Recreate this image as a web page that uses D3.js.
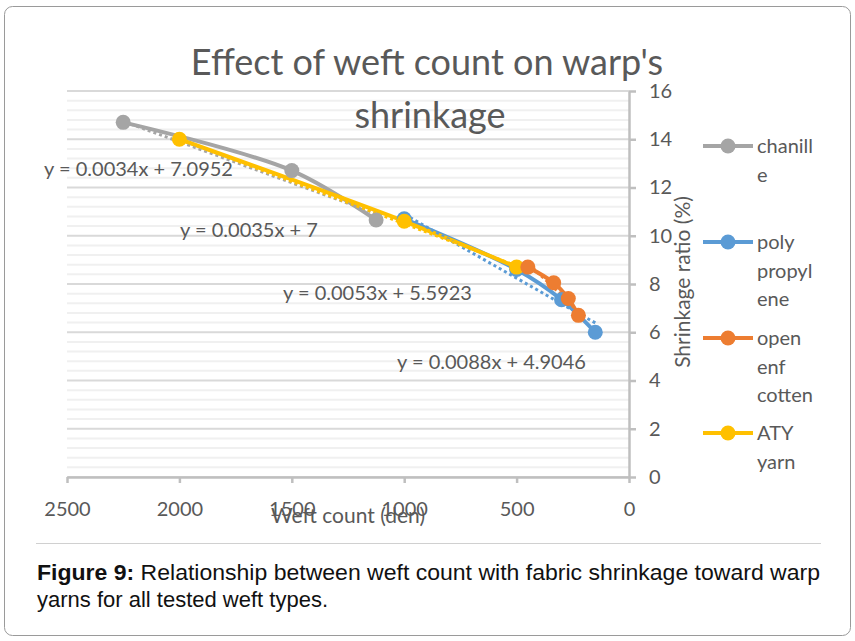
<!DOCTYPE html>
<html>
<head>
<meta charset="utf-8">
<script src="https://cdn.jsdelivr.net/npm/d3@7"></script>
<style>
	body { margin: 0; background: #fff; }
	svg { display: block; }
	.axis text { font-family: Lato, 'Open Sans', sans-serif; font-size: 20px; fill: #595959; }
</style>
</head>
<body>
<div class="chart"></div>
<script>
// data
const seriesNames = ['chanille', 'poly propylene', 'open enf cotten', 'ATY yarn']
const legendLines = [['chanill', 'e'], ['poly', 'propyl', 'ene'], ['open', 'enf', 'cotten'], ['ATY', 'yarn']]
const seriesColors = ['#a5a5a5', '#5b9bd5', '#ed7d31', '#ffc000']

const chanilleX = [2250, 1500, 1125]
const chanilleY = [14.7, 12.7, 10.65]
const polyX = [1000, 500, 300, 150]
const polyY = [10.7, 8.6, 7.35, 6.0]
const cottonX = [450, 335, 270, 225]
const cottonY = [8.7, 8.05, 7.4, 6.7]
const atyX = [2000, 1000, 500]
const atyY = [14.0, 10.6, 8.7]

// linear trendlines as printed on the chart
const trendSlope = [0.0034, 0.0053, 0.0088, 0.0035]
const trendIntercept = [7.0952, 5.5923, 4.9046, 7]
// where each equation sits, in data units (den, %)
const eqAnchorX = [2602, 1539, 1032, 1997]
const eqAnchorY = [12.77, 7.64, 4.76, 10.25]

const xTicks = [2500, 2000, 1500, 1000, 500, 0]
const yTicks = [0, 2, 4, 6, 8, 10, 12, 14, 16]

const titleLines = ["Effect of weft count on warp's", 'shrinkage']
const xLabel = 'Weft count (den)'
const yLabel = 'Shrinkage ratio (%)'
const captionBold = 'Figure 9:'
const captionLine1 = ' Relationship between weft count with fabric shrinkage toward warp'
const captionLine2 = 'yarns for all tested weft types.'

const seriesX = [chanilleX, polyX, cottonX, atyX]
const seriesY = [chanilleY, polyY, cottonY, atyY]
const series = seriesNames.map((name, i) => ({
	name,
	color: seriesColors[i],
	lines: legendLines[i],
	points: seriesX[i].map((x, j) => ({ x, y: seriesY[i][j] })),
	slope: trendSlope[i],
	intercept: trendIntercept[i],
	eq: { x: eqAnchorX[i], y: eqAnchorY[i] }
}))

const W = 855, H = 641
const plot = { left: 67, right: 629, top: 91, bottom: 477 }
const txt = '#595959'
const font = "Lato, 'Open Sans', sans-serif"

const svg = d3.select('.chart')
	.append('svg')
	.attr('width', W)
	.attr('height', H)
	.attr('viewBox', [0, 0, W, H])

svg.append('rect')
	.attr('x', 4.5).attr('y', 6.5)
	.attr('width', W - 9).attr('height', H - 12)
	.attr('rx', 8)
	.attr('fill', '#fff')
	.attr('stroke', '#9a9a9a')

const xScale = d3.scaleLinear().domain([2500, 0]).range([plot.left, plot.right])
const yScale = d3.scaleLinear().domain([0, 16]).range([plot.bottom, plot.top])

// gridlines: major every 2, minor every 0.4
const grid = d3.range(0, 41).map(i => ({ v: i * 0.4, major: i % 5 === 0 }))
svg.append('g')
	.selectAll('line')
	.data(grid.sort((a, b) => a.major - b.major))
	.join('line')
	.attr('x1', plot.left).attr('x2', plot.right)
	.attr('y1', d => yScale(d.v)).attr('y2', d => yScale(d.v))
	.attr('stroke', d => d.major ? '#d9d9d9' : '#f0f0f0')
	.attr('stroke-width', 2)

// axes
const xAxis = d3.axisBottom(xScale).tickValues(xTicks).tickFormat(d3.format('d'))
	.tickSize(6).tickSizeOuter(0).tickPadding(19)
const yAxis = d3.axisRight(yScale).tickValues(yTicks).tickFormat(d3.format('d'))
	.tickSize(7).tickSizeOuter(0).tickPadding(13)

const xAxisGroup = svg.append('g')
	.attr('class', 'axis x-axis')
	.attr('transform', `translate(0, ${plot.bottom})`)
	.call(xAxis)
const yAxisGroup = svg.append('g')
	.attr('class', 'axis y-axis')
	.attr('transform', `translate(${plot.right}, 0)`)
	.call(yAxis)

svg.selectAll('.axis path, .axis line')
	.attr('stroke', '#bfbfbf')
	.attr('stroke-width', 2.5)
yAxisGroup.selectAll('text').attr('text-anchor', 'start')

svg.append('text')
	.attr('x', 348).attr('y', 523)
	.attr('text-anchor', 'middle')
	.attr('font-family', font).attr('font-size', 21)
	.attr('fill', txt)
	.text(xLabel)

svg.append('text')
	.attr('transform', `translate(690, 282) rotate(-90)`)
	.attr('text-anchor', 'middle')
	.attr('font-family', font).attr('font-size', 21)
	.attr('fill', txt)
	.text(yLabel)

// title
svg.append('g')
	.selectAll('text')
	.data(titleLines)
	.join('text')
	.attr('x', (d, i) => i ? 430 : 427)
	.attr('y', (d, i) => i ? 128 : 75)
	.attr('text-anchor', 'middle')
	.attr('font-family', font).attr('font-size', 36)
	.attr('fill', txt)
	.text(d => d)

// series: lines, trendlines, then markers
const line = d3.line()
	.x(d => xScale(d.x))
	.y(d => yScale(d.y))
	.curve(d3.curveCatmullRom)

const drawOrder = [0, 1, 3, 2]

svg.append('g')
	.selectAll('path')
	.data(drawOrder.map(i => series[i]))
	.join('path')
	.attr('d', d => line(d.points))
	.attr('fill', 'none')
	.attr('stroke', d => d.color)
	.attr('stroke-width', 4)
	.attr('stroke-linejoin', 'round')

svg.append('g')
	.selectAll('path')
	.data(drawOrder.map(i => series[i]))
	.join('path')
	.attr('d', d => {
		const ext = d3.extent(d.points, p => p.x)
		return d3.line().x(p => xScale(p.x)).y(p => yScale(p.y))(
			ext.map(x => ({ x, y: d.slope * x + d.intercept })))
	})
	.attr('fill', 'none')
	.attr('stroke', d => d.color)
	.attr('stroke-width', 3)
	.attr('stroke-dasharray', '3,3')

drawOrder.forEach(i => {
	svg.append('g')
		.selectAll('circle')
		.data(series[i].points)
		.join('circle')
		.attr('cx', d => xScale(d.x))
		.attr('cy', d => yScale(d.y))
		.attr('r', 7.5)
		.attr('fill', series[i].color)
})

// trendline equations
svg.append('g')
	.selectAll('text')
	.data(series)
	.join('text')
	.attr('x', d => xScale(d.eq.x))
	.attr('y', d => yScale(d.eq.y))
	.attr('dy', '0.35em')
	.attr('font-family', font).attr('font-size', 20)
	.attr('fill', txt)
	.text(d => `y = ${d.slope}x + ${d.intercept}`)

// legend
const legendY = [146, 242, 338, 433]
const legend = svg.append('g')
	.selectAll('g')
	.data(series)
	.join('g')
	.attr('transform', (d, i) => `translate(703, ${legendY[i]})`)

legend.append('line')
	.attr('x1', 0).attr('x2', 50)
	.attr('stroke', d => d.color)
	.attr('stroke-width', 4)
legend.append('circle')
	.attr('cx', 25).attr('r', 7.5)
	.attr('fill', d => d.color)
legend.append('text')
	.attr('font-family', font).attr('font-size', 20)
	.attr('fill', txt)
	.selectAll('tspan')
	.data(d => d.lines)
	.join('tspan')
	.attr('x', 54)
	.attr('y', (d, i) => i * 28.5)
	.attr('dy', '0.35em')
	.text(d => d)

// caption
svg.append('line')
	.attr('x1', 36).attr('x2', 821)
	.attr('y1', 543.5).attr('y2', 543.5)
	.attr('stroke', '#d0d0d0')

const capFont = "'Liberation Sans', Arial, sans-serif"
const cap1 = svg.append('text')
	.attr('x', 37).attr('y', 580)
	.attr('font-family', capFont).attr('font-size', 22)
	.attr('fill', '#111')
cap1.append('tspan').attr('font-weight', 'bold').text(captionBold)
cap1.append('tspan').text(captionLine1)
cap1.attr('textLength', 783).attr('lengthAdjust', 'spacingAndGlyphs')

svg.append('text')
	.attr('x', 37).attr('y', 607)
	.attr('font-family', capFont).attr('font-size', 22)
	.attr('fill', '#111')
	.text(captionLine2)
</script>
</body>
</html>
